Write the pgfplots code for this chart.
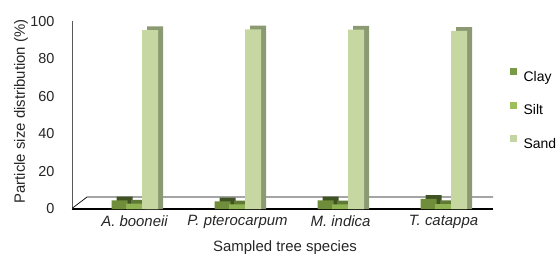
\documentclass[border=0pt]{standalone}
\usepackage{pgfplots}
\pgfplotsset{compat=1.18}
\usepackage{pgfplotstable}
\usepackage{fontspec}
\setmainfont{Liberation Sans}
\definecolor{clay}{HTML}{6F8D3A}
\definecolor{claydk}{HTML}{3F5222}
\definecolor{silt}{HTML}{8FB352}
\definecolor{siltdk}{HTML}{5E7A35}
\definecolor{sand}{HTML}{C6D7A2}
\definecolor{sanddk}{HTML}{8B9A72}
\definecolor{claylg}{HTML}{7A9A48}
\definecolor{siltlg}{HTML}{9DBE5A}
\definecolor{sandlg}{HTML}{C3D5A3}

\pgfplotstableread{
x clay silt sand clayb siltb sandb
0 4.6 2.8 95.4 6.6 4.8 97.4
1 4.0 2.5 95.8 6.0 4.5 97.8
2 4.6 2.5 95.6 6.6 4.5 97.6
3 5.4 2.6 95.0 7.4 4.6 97.0
}\data

\begin{document}
\begin{tikzpicture}
\useasboundingbox (0,0) rectangle (560bp,254bp);
\begin{axis}[
  at={(72bp,45bp)}, anchor=south west,
  scale only axis, width=421bp, height=187.5bp,
  xmin=-0.607, xmax=3.48, ymin=0, ymax=100,
  ybar, bar width=16bp,
  axis lines*=left,
  x axis line style={black, line width=1.3bp},
  y axis line style={gray!70!black, line width=0.6bp},
  major tick length=0pt,
  ytick={0,20,...,100},
  xtick={0,1,2,3},
  xticklabels={A. booneii, P. pterocarpum, M. indica, T. catappa},
  xticklabel style={font=\fontsize{15}{18}\selectfont\itshape, text=black!85, yshift=-3bp},
  yticklabel style={font=\fontsize{14.5}{17}\selectfont, text=black!85, xshift=-14bp},
  /pgf/number format/assume math mode=true,
  xlabel={Sampled tree species},
  ylabel={Particle size distribution (\%)},
  xlabel style={at={(axis description cs:0.506,-0.207)}, anchor=center, font=\fontsize{15}{18}\selectfont, text=black!85},
  ylabel style={at={(axis description cs:-0.121,0.52)}, anchor=center, rotate=0, font=\fontsize{15}{18}\selectfont, text=black!85},
  clip=false,
  legend style={draw=none, fill=none, at={(axis description cs:1.039,0.53)}, anchor=west,
    inner sep=0pt, row sep=17.5bp, font=\fontsize{14}{17}\selectfont,
    nodes={inner sep=0pt, text height=11bp, text depth=3bp},
    /tikz/every odd column/.append style={column sep=7bp}},
  legend cell align=left,
  legend image code/.code={\fill[#1] (0bp,2bp) rectangle (7bp,9bp);},
]
% floor
\draw[black, line width=0.7bp] (axis cs:-0.607,0.3) -- (axis cs:-0.461,6.4) -- (axis cs:3.48,6.4);

\addplot[fill=claydk, draw=none, bar shift=-10bp, forget plot] table[x=x, y=clayb] {\data};
\addplot[fill=clay, draw=none, bar shift=-15bp, forget plot] table[x=x, y=clay] {\data};
\addplot[fill=siltdk, draw=none, bar shift=4.5bp, forget plot] table[x=x, y=siltb] {\data};
\addplot[fill=silt, draw=none, bar shift=-0.5bp, forget plot] table[x=x, y=silt] {\data};
\addplot[fill=sanddk, draw=none, bar shift=20.5bp, forget plot] table[x=x, y=sandb] {\data};
\addplot[fill=sand, draw=none, bar shift=15.5bp, forget plot] table[x=x, y=sand] {\data};

% legend-only entries
\addplot[fill=claylg, draw=none] coordinates {(0,0)};
\addplot[fill=siltlg, draw=none] coordinates {(0,0)};
\addplot[fill=sandlg, draw=none] coordinates {(0,0)};
\legend{Clay, Silt, Sand}
\end{axis}
\end{tikzpicture}
\end{document}
